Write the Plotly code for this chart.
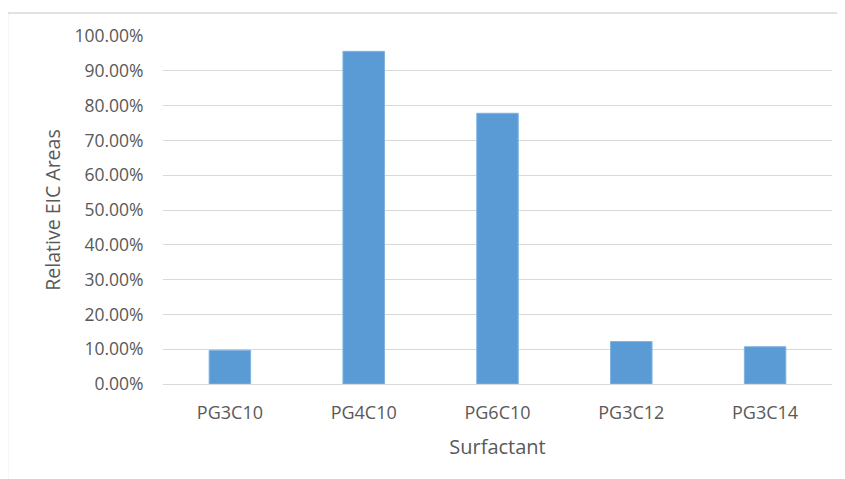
import plotly.graph_objects as go

categories = ["PG3C10", "PG4C10", "PG6C10", "PG3C12", "PG3C14"]
values = [0.097, 0.956, 0.778, 0.122, 0.107]
y_ticks = [i / 10 for i in range(11)]

# page offset of 8px (default body margin)
W, H = 837, 471
L, R, T, B = 155, 13, 27.5, 94.5
pw, ph = W - L - R, H - T - B

fig = go.Figure(go.Bar(x=categories, y=values,
                       marker=dict(color="#5b9bd5", line=dict(color="#7fb2e0", width=1)),
                       width=0.31))

fontfam = "Open Sans, Noto Sans, sans-serif"
fig.update_layout(
    width=W, height=H,
    margin=dict(l=L, r=R, t=T, b=B, pad=0),
    plot_bgcolor="white", paper_bgcolor="white",
    font=dict(family=fontfam, size=17, color="#595959"),
    showlegend=False,
    xaxis=dict(title=dict(text="Surfactant", standoff=17, font=dict(size=20, color="#595959")),
               showline=False, ticks="outside", ticklen=12, tickcolor="rgba(0,0,0,0)",
               showgrid=False, tickfont=dict(size=18)),
    yaxis=dict(title=dict(text="Relative EIC Areas", standoff=8, font=dict(size=19.5, color="#595959")),
               range=[0, 1.0001], tickvals=y_ticks, tickformat=".2%", showgrid=True,
               gridcolor="#d9d9d9", gridwidth=1.3, zeroline=True, zerolinecolor="#d9d9d9", zerolinewidth=1.3,
               ticks="outside", ticklen=15, tickcolor="rgba(0,0,0,0)", tickfont=dict(size=17.5)),
    shapes=[dict(type="rect", xref="paper", yref="paper",
                 x0=(-0.5 - L) / pw, x1=(836.5 - L) / pw,
                 y0=(-10 - B) / ph,
                 y1=(H - 4.5 - B) / ph,
                 line=dict(color="#d9d9d9", width=1.5), fillcolor="rgba(0,0,0,0)", layer="below")],
)
fig.write_html("out.html")
